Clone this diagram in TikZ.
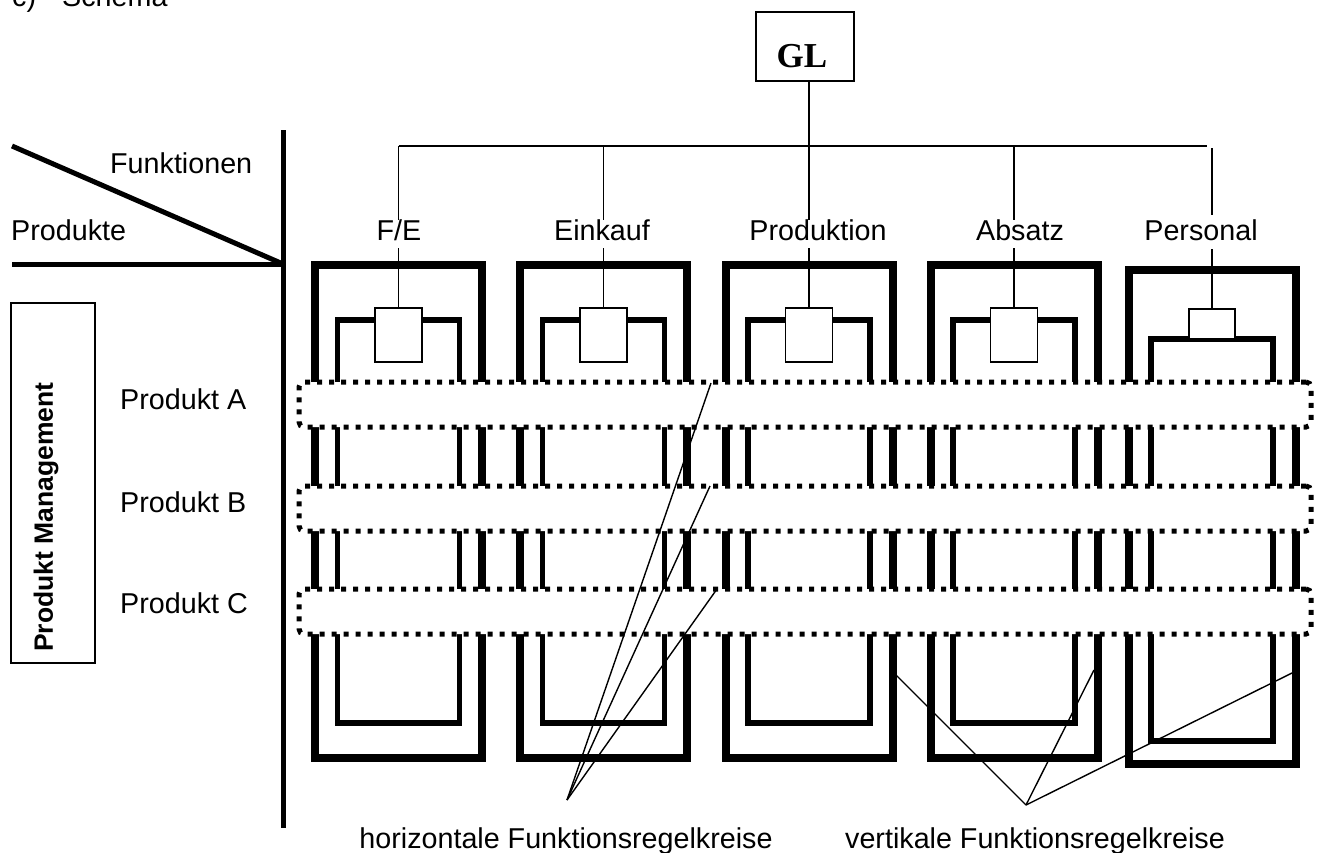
\documentclass[tikz,border=0pt]{standalone}
\usepackage{fontspec}
\setmainfont{Liberation Sans}
\newfontfamily\glfont{Liberation Serif}
\begin{document}
\begin{tikzpicture}[x=1pt,y=-1pt,
  thinline/.style={line width=1.4pt},
  heavy/.style={line width=5pt},
  outerbox/.style={line width=8pt},
  innerbox/.style={line width=5.5pt},
  sq/.style={draw,line width=1.4pt,fill=white,inner sep=0pt},
  band/.style={draw,fill=white,line width=5pt,dash pattern=on 5pt off 7pt,rounded corners=5pt,inner sep=0pt,minimum width=1012pt,minimum height=45pt},
  lab/.style={font=\fontsize{28.7}{30}\selectfont,inner sep=0pt,anchor=base},
]
\useasboundingbox (0,0) rectangle (1317,852);

% title (cut off at top)
\node[lab,anchor=base west] (ctitle) at (12,6) {c)};
\node[lab,anchor=base west] (schema) at (62,6) {Schema};

% axes on the left
\coordinate (vtop) at (283,130);
\coordinate (vbot) at (283,828);
\coordinate (hleft) at (12,264);
\coordinate (hright) at (283,264);
\coordinate (dleft) at (12,146);
\draw[heavy] (vtop) -- (vbot);
\draw[heavy] (hleft) -- (hright);
\draw[heavy] (dleft) -- (hright);
\node[lab,anchor=base west] (funk) at (110,173) {Funktionen};
\node[lab,anchor=base west] (prod) at (11,240) {Produkte};

% product management
\node[draw,line width=1.4pt,minimum width=84pt,minimum height=360pt,inner sep=0pt] (pmbox) at (53,483) {};
\node[rotate=90,font=\bfseries\fontsize{26.5}{28}\selectfont,inner sep=0pt] (pm) at (46,517) {Produkt Management};
\node[lab,anchor=base west] (pA) at (120,409) {Produkt A};
\node[lab,anchor=base west] (pB) at (120,512) {Produkt B};
\node[lab,anchor=base west] (pC) at (120,613) {Produkt C};

% function columns
\foreach \cx/\nm in {398.5/fe,603.5/ek,809/pr,1014/ab}{
  \draw[outerbox] (\cx-83.5,265) rectangle (\cx+83.5,758);
  \draw[innerbox] (\cx-61,320) rectangle (\cx+61,723);
  \node[sq,minimum width=47pt,minimum height=54pt] (sq-\nm) at (\cx,335) {};
}
\draw[outerbox] (1129,270) rectangle (1296,764);
\draw[innerbox] (1151,339) rectangle (1273,741);
\node[sq,minimum width=46pt,minimum height=30pt] (sq-pe) at (1212,324) {};

% GL and tree
\node[draw,line width=1.4pt,minimum width=98pt,minimum height=69pt,inner sep=0pt] (gl) at (805,46.5) {};
\node[font=\glfont\bfseries\fontsize{35}{36}\selectfont,inner sep=0pt,anchor=base] (gltext) at (802,67) {GL};
\coordinate (t-fe) at (398.5,146);
\coordinate (t-ek) at (603.5,146);
\coordinate (t-pr) at (809,146);
\coordinate (t-ab) at (1014,146);
\coordinate (t-end) at (1207,146);
\coordinate (t-pe) at (1212,148);
\draw[thinline] (t-pr |- gl.south) -- (t-pr);
\draw[thinline] (t-fe) -- (t-end);

\node[lab] (l-fe) at (399,240) {F/E};
\node[lab] (l-ek) at (602,240) {Einkauf};
\node[lab] (l-pr) at (818,240) {Produktion};
\node[lab] (l-ab) at (1020,240) {Absatz};
\node[lab] (l-pe) at (1201,240) {Personal};

\foreach \nm in {fe,ek,pr,ab}{
  \draw[thinline] (t-\nm) -- ++(0,74);
  \draw[thinline] (sq-\nm.north) -- ++(0,-59);
}
\draw[thinline] (t-pe) -- ++(0,67);
\draw[thinline] (sq-pe.north) -- ++(0,-59);

% horizontal bands
\node[band] (bandA) at (805,404.5) {};
\node[band] (bandB) at (805,508.5) {};
\node[band] (bandC) at (805,611.5) {};

% leaders
\coordinate (hA) at (711,383);
\coordinate (hB) at (710,486);
\coordinate (hC) at (717,589);
\coordinate (hap) at (567,800);
\draw[thinline] (hap) -- (hA);
\draw[thinline] (hap) -- (hB);
\draw[thinline] (hap) -- (hC);

\coordinate (vA) at (895,674);
\coordinate (vB) at (1094,670);
\coordinate (vC) at (1292,673);
\coordinate (vap) at (1026,805);
\draw[thinline] (vap) -- (vA);
\draw[thinline] (vap) -- (vB);
\draw[thinline] (vap) -- (vC);

\node[lab] (htext) at (566,848) {horizontale Funktionsregelkreise};
\node[lab] (vtext) at (1035,848) {vertikale Funktionsregelkreise};
\end{tikzpicture}
\end{document}
